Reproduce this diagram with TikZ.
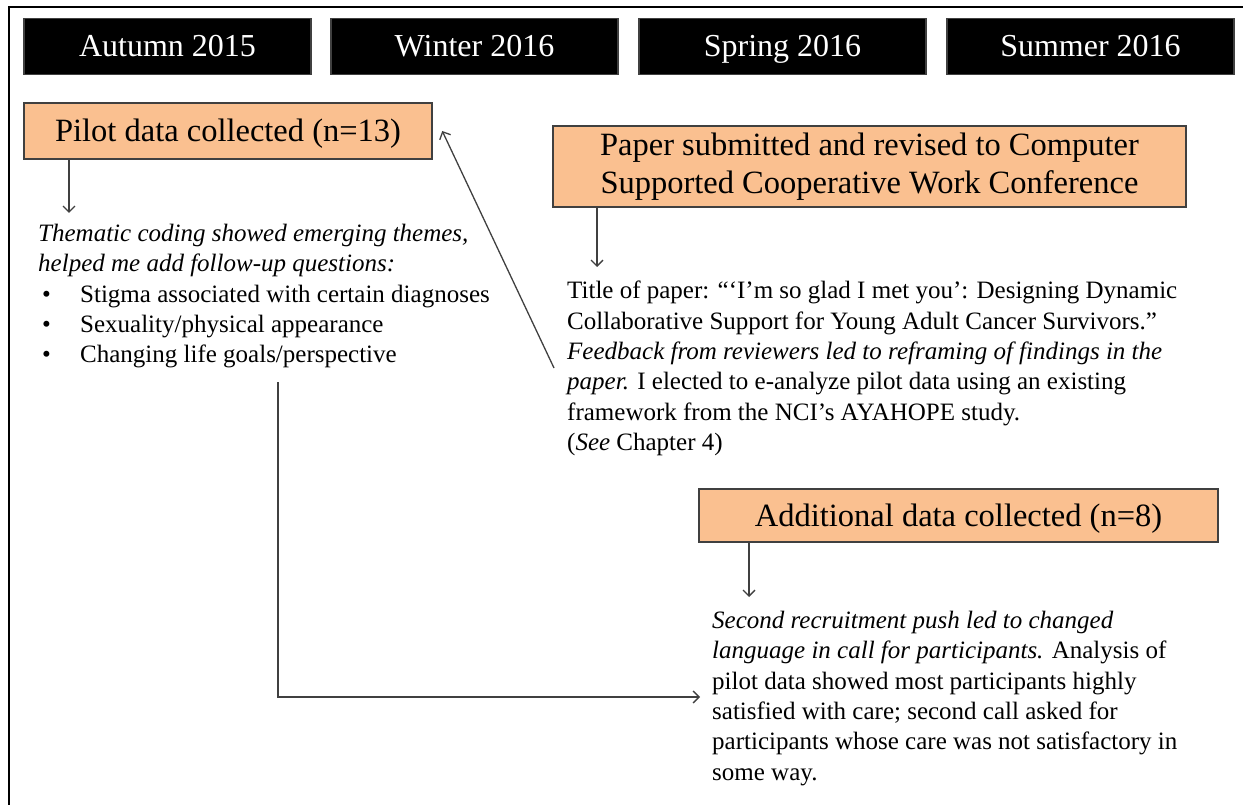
\documentclass[tikz,border=0pt]{standalone}
\usepackage{fontspec}
\setmainfont{Liberation Serif}
\usetikzlibrary{arrows.meta}

\definecolor{boxfill}{HTML}{FAC090}
\definecolor{boxline}{HTML}{404040}

\tikzset{
  season/.style={fill=black,draw=boxline,line width=1.5pt,text=white,
    minimum width=287pt,minimum height=56pt,inner sep=0pt,
    text height=21pt,text depth=0pt,
    font=\fontsize{32}{38}\selectfont},
  event/.style={fill=boxfill,draw=boxline,line width=2.5pt,inner sep=0pt,
    align=center,font=\fontsize{32.5}{38}\selectfont},
  note/.style={anchor=north west,align=left,inner sep=0pt,
    font=\fontsize{25}{30.3}\selectfont},
  link/.style={draw=boxline,line width=1.3pt,-{Straight Barb[length=6pt,width=12pt]}}
}

\begin{document}
\begin{tikzpicture}[x=1pt,y=-1pt]

\useasboundingbox (0,0) rectangle (1243,805);
\clip (0,0) rectangle (1243,805);
\draw[line width=2.5pt] (9,7) rectangle (1252,814);

% SEASONS
\node[season] (aut) at (167.5,46.5) {Autumn 2015};
\node[season] (win) at (474.5,46.5) {Winter 2016};
\node[season] (spr) at (782.5,46.5) {Spring 2016};
\node[season] (sum) at (1090.5,46.5) {Summer 2016};

% PILOT
\node[event,minimum width=408pt,minimum height=56pt,text height=21pt,text depth=0pt] (pilot) at (228,131) {Pilot data collected (n=13)};
\node[note] (themes) at (38,224) {\textit{Thematic coding showed emerging themes,}\\
  \textit{helped me add follow-up questions:}\\
  \hspace*{4pt}\makebox[38pt][l]{\textbullet}Stigma associated with certain diagnoses\\
  \hspace*{4pt}\makebox[38pt][l]{\textbullet}Sexuality/physical appearance\\
  \hspace*{4pt}\makebox[38pt][l]{\textbullet}Changing life goals/perspective};
\coordinate (p1) at (69,213);
\draw[link] (pilot.south -| p1) -- (p1);

% PAPER
\node[event,minimum width=633pt,minimum height=81pt] (paper) at (869.5,166.5) {Paper submitted and revised to Computer\\Supported Cooperative Work Conference};
\node[note] (title) at (567,281) {Title of paper: “‘I’m so glad I met you’: Designing Dynamic\\
  Collaborative Support for Young Adult Cancer Survivors.”\\
  \textit{Feedback from reviewers led to reframing of findings in the}\\
  \textit{paper.} I elected to e-analyze pilot data using an existing\\
  framework from the NCI’s AYAHOPE study.\\
  (\textit{See} Chapter 4)};
\coordinate (p2) at (597,267);
\draw[link] (paper.south -| p2) -- (p2);
\coordinate (back) at (554,368);
\draw[link] (back) -- ([xshift=9pt]pilot.east);

% ADDITIONAL
\node[event,minimum width=519pt,minimum height=53pt,text height=21pt,text depth=0pt] (more) at (958.5,515.5) {Additional data collected (n=8)};
\node[note] (recruit) at (712,611) {\textit{Second recruitment push led to changed}\\
  \textit{language in call for participants.} Analysis of\\
  pilot data showed most participants highly\\
  satisfied with care; second call asked for\\
  participants whose care was not satisfactory in\\
  some way.};
\coordinate (p3) at (749,597);
\draw[link] (more.south -| p3) -- (p3);
\coordinate (bend) at (278,697);
\draw[link] ([yshift=-14pt]themes.south -| bend) |- ([xshift=-12pt]recruit.west |- bend);

\end{tikzpicture}
\end{document}
